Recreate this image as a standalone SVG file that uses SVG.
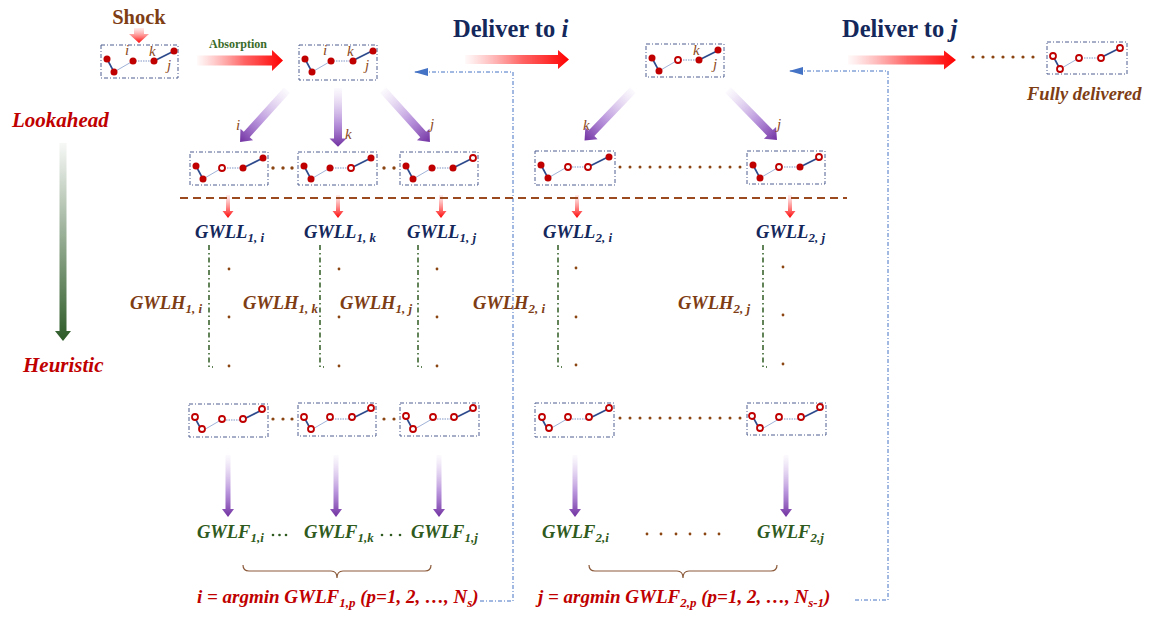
<svg xmlns="http://www.w3.org/2000/svg" width="1160" height="618" viewBox="0 0 1160 618">
<defs>
<style>
text{font-family:"Liberation Serif","Times New Roman",serif;font-weight:bold}
.it{font-style:italic}
.navy{fill:#14285c}
.brown{fill:#7e3d14}
.red{fill:#c00000}
.grn{fill:#2f5a20}
.box{fill:#fff;stroke:#4d5f8e;stroke-width:1;stroke-dasharray:4 2 1 2}
.sA{stroke:#2c4a8c;stroke-width:1.6;fill:none}
.sB{stroke:#9fb2d8;stroke-width:1;fill:none}
.sC{stroke:#7f95c4;stroke-width:1;stroke-dasharray:1.5 1;fill:none}
.nf{fill:#c00000}
.nh{fill:#fff;stroke:#c00000;stroke-width:1.8}
.lbl{font-size:15px;fill:#8b4a1c;font-style:italic;font-weight:normal}
.gw{font-size:18.5px;font-style:italic}
.sub{font-size:13px}
.brk{stroke:#2f5a20;stroke-width:1.5;fill:none;stroke-dasharray:5 3 1.5 3}
.dot{fill:#8b4513}
.gdot{fill:#2f5a20}
.conn{stroke:#4472c4;stroke-width:1;fill:none;stroke-dasharray:4 2 1 2}
.brace{stroke:#8b5a3a;stroke-width:1.2;fill:none}
.sep{stroke:#9a4a1e;stroke-width:2;stroke-dasharray:8 5;fill:none}
</style>
<linearGradient id="gRed" x1="0" y1="0" x2="1" y2="0">
<stop offset="0" stop-color="#ff6060" stop-opacity="0.03"/>
<stop offset="0.55" stop-color="#ff3030" stop-opacity="0.75"/>
<stop offset="1" stop-color="#ff0000"/>
</linearGradient>
<linearGradient id="gRedV" x1="0" y1="0" x2="0" y2="1">
<stop offset="0" stop-color="#ff8080" stop-opacity="0.15"/>
<stop offset="1" stop-color="#ff0000"/>
</linearGradient>
<linearGradient id="gPur" x1="0" y1="0" x2="0" y2="1">
<stop offset="0" stop-color="#c2a0e0" stop-opacity="0.05"/>
<stop offset="0.6" stop-color="#9a66cc" stop-opacity="0.7"/>
<stop offset="1" stop-color="#7030a0"/>
</linearGradient>
<linearGradient id="gGrn" x1="0" y1="0" x2="0" y2="1">
<stop offset="0" stop-color="#2d5a27" stop-opacity="0.04"/>
<stop offset="1" stop-color="#2d5a27"/>
</linearGradient>
<g id="ln">
<path class="sA" d="M6,14 L13,27"/>
<path class="sB" d="M13,27 L32,16"/>
<path class="sC" d="M32,16 L53,16"/>
<path class="sA" d="M53,16 L73,6"/>
</g>
<path id="pd" d="M-4,0 L4,0 L4,60 L8.5,60 L0,70 L-8.5,60 L-4,60 Z"/>
<path id="pv" d="M-2.5,0 L2.5,0 L2.5,54 L6,54 L0,62 L-6,54 L-2.5,54 Z"/>
<path id="rv" d="M-2,0 L2,0 L2,16 L5.5,16 L0,23 L-5.5,16 L-2,16 Z"/>
<marker id="ab" markerWidth="14" markerHeight="8" refX="13" refY="4" orient="auto" markerUnits="userSpaceOnUse">
<path d="M0,0 L14,4 L0,8 Z" fill="#4472c4"/>
</marker>
</defs>
<rect width="1160" height="618" fill="#fff"/>

<!-- connectors -->
<g id="connectors">
<path d="M134,28 L144,28 L144,34 L149,34 L139,43 L129,34 L134,34 Z" fill="url(#gRedV)"/>
<path d="M197,55.5 L272,55.5 L272,50 L283,60.5 L272,71 L272,65.5 L197,65.5 Z" fill="url(#gRed)"/>
<path d="M465,55 L558,55 L558,50 L569,59.5 L558,69 L558,64 L465,64 Z" fill="url(#gRed)"/>
<path d="M848,55.5 L944,55.5 L944,50.5 L956,60 L944,69.5 L944,64.5 L848,64.5 Z" fill="url(#gRed)"/>
<use href="#pd" fill="url(#gPur)" transform="translate(287,90) rotate(42.1)"/>
<use href="#pd" fill="url(#gPur)" transform="translate(338,88) scale(1,0.84)"/>
<use href="#pd" fill="url(#gPur)" transform="translate(383,90) rotate(-42.1)"/>
<use href="#pd" fill="url(#gPur)" transform="translate(633,90) rotate(43.8)"/>
<use href="#pd" fill="url(#gPur)" transform="translate(728,90) rotate(-44.4)"/>
<use href="#rv" fill="url(#gRedV)" x="228" y="195"/>
<use href="#rv" fill="url(#gRedV)" x="338" y="195"/>
<use href="#rv" fill="url(#gRedV)" x="441" y="195"/>
<use href="#rv" fill="url(#gRedV)" x="577" y="195"/>
<use href="#rv" fill="url(#gRedV)" x="790" y="195"/>
<use href="#pv" fill="url(#gPur)" x="228" y="455"/>
<use href="#pv" fill="url(#gPur)" x="336" y="455"/>
<use href="#pv" fill="url(#gPur)" x="439" y="455"/>
<use href="#pv" fill="url(#gPur)" x="575" y="455"/>
<use href="#pv" fill="url(#gPur)" x="786" y="455"/>
<path d="M59.5,143 L66.5,143 L66.5,331 L71,331 L63,341 L55,331 L59.5,331 Z" fill="url(#gGrn)"/>
<path class="conn" d="M480,601 L513,601 L513,72 L415,72" marker-end="url(#ab)"/>
<path class="conn" d="M855,600 L888,600 L888,71 L790,71" marker-end="url(#ab)"/>
<path class="sep" d="M180,198 L847,198"/>
<path class="brk" d="M209,245 L209,367 L213,367"/>
<path class="brk" d="M320,245 L320,367 L324,367"/>
<path class="brk" d="M418,245 L418,367 L422,367"/>
<path class="brk" d="M558,245 L558,367 L562,367"/>
<path class="brk" d="M763,245 L763,367 L767,367"/>
<path class="brace" d="M243,565 Q243,571 249,571 L331,571 Q337,571 337,578 Q337,571 343,571 L425,571 Q431,571 431,565"/>
<path class="brace" d="M589,565 Q589,571 595,571 L677,571 Q683,571 683,578 Q683,571 689,571 L771,571 Q777,571 777,565"/>
</g>

<!-- dots -->
<g id="ellipses">
<g class="dot">
<circle cx="973" cy="57" r="1.6"/><circle cx="983" cy="57" r="1.6"/><circle cx="993" cy="57" r="1.6"/><circle cx="1003" cy="57" r="1.6"/><circle cx="1013" cy="57" r="1.6"/><circle cx="1023" cy="57" r="1.6"/><circle cx="1033" cy="57" r="1.6"/>
<circle cx="273" cy="168" r="1.7"/><circle cx="283" cy="168" r="1.7"/><circle cx="292" cy="168" r="1.7"/>
<circle cx="384" cy="168" r="1.7"/><circle cx="394" cy="168" r="1.7"/>
<circle cx="620" cy="167" r="1.5"/><circle cx="630" cy="167" r="1.5"/><circle cx="640" cy="167" r="1.5"/><circle cx="650" cy="167" r="1.5"/><circle cx="660" cy="167" r="1.5"/><circle cx="670" cy="167" r="1.5"/><circle cx="680" cy="167" r="1.5"/><circle cx="690" cy="167" r="1.5"/><circle cx="700" cy="167" r="1.5"/><circle cx="710" cy="167" r="1.5"/><circle cx="720" cy="167" r="1.5"/><circle cx="730" cy="167" r="1.5"/><circle cx="740" cy="167" r="1.5"/>
<circle cx="273" cy="419" r="1.6"/><circle cx="283" cy="419" r="1.6"/><circle cx="292" cy="419" r="1.6"/>
<circle cx="384" cy="419" r="1.6"/><circle cx="394" cy="419" r="1.6"/>
<circle cx="620" cy="418" r="1.5"/><circle cx="630" cy="418" r="1.5"/><circle cx="640" cy="418" r="1.5"/><circle cx="650" cy="418" r="1.5"/><circle cx="660" cy="418" r="1.5"/><circle cx="670" cy="418" r="1.5"/><circle cx="680" cy="418" r="1.5"/><circle cx="690" cy="418" r="1.5"/><circle cx="700" cy="418" r="1.5"/><circle cx="710" cy="418" r="1.5"/><circle cx="720" cy="418" r="1.5"/><circle cx="730" cy="418" r="1.5"/><circle cx="740" cy="418" r="1.5"/>
<circle cx="229" cy="269" r="1.4"/><circle cx="229" cy="317" r="1.4"/><circle cx="229" cy="366" r="1.4"/>
<circle cx="339" cy="269" r="1.4"/><circle cx="339" cy="317" r="1.4"/><circle cx="339" cy="366" r="1.4"/>
<circle cx="437" cy="269" r="1.4"/><circle cx="437" cy="317" r="1.4"/><circle cx="437" cy="366" r="1.4"/>
<circle cx="576" cy="268" r="1.4"/><circle cx="576" cy="317" r="1.4"/><circle cx="576" cy="365" r="1.4"/>
<circle cx="783" cy="267" r="1.4"/><circle cx="783" cy="315" r="1.4"/><circle cx="783" cy="364" r="1.4"/>
<circle cx="647" cy="534" r="1.4"/><circle cx="661" cy="534" r="1.4"/><circle cx="676" cy="534" r="1.4"/><circle cx="690" cy="534" r="1.4"/><circle cx="705" cy="534" r="1.4"/><circle cx="719" cy="534" r="1.4"/>
</g>
<g class="gdot">
<circle cx="273" cy="535" r="1.3"/><circle cx="279.5" cy="535" r="1.3"/><circle cx="286" cy="535" r="1.3"/>
<circle cx="382" cy="535" r="1.3"/><circle cx="391" cy="535" r="1.3"/><circle cx="400" cy="535" r="1.3"/>
</g>
</g>

<!-- top row boxes -->
<g id="box-shock" transform="translate(101,45)">
<rect class="box" width="77" height="33"/><use href="#ln"/>
<circle class="nf" cx="6" cy="14" r="3.5"/><circle class="nf" cx="13" cy="27" r="3.5"/><circle class="nf" cx="32" cy="16" r="3.5"/><circle class="nf" cx="53" cy="16" r="3.5"/><circle class="nf" cx="73" cy="6" r="3.5"/>
<text class="lbl" x="24" y="10">i</text><text class="lbl" x="48" y="11">k</text><text class="lbl" x="66" y="25">j</text>
</g>
<g id="box-absorbed" transform="translate(299,45)">
<rect class="box" width="78" height="35"/><use href="#ln"/>
<circle class="nf" cx="6" cy="14" r="3.5"/><circle class="nf" cx="13" cy="27" r="3.5"/><circle class="nf" cx="32" cy="16" r="3.5"/><circle class="nf" cx="54" cy="16" r="3.5"/><circle class="nf" cx="74" cy="6" r="3.5"/>
<text class="lbl" x="24" y="10">i</text><text class="lbl" x="48" y="11">k</text><text class="lbl" x="66" y="25">j</text>
</g>
<g id="box-deliver-i" transform="translate(646,44)">
<rect class="box" width="78" height="33"/><use href="#ln"/>
<circle class="nf" cx="6" cy="14" r="3.5"/><circle class="nf" cx="13" cy="27" r="3.5"/><circle class="nh" cx="32" cy="16" r="3"/><circle class="nf" cx="53" cy="16" r="3.5"/><circle class="nf" cx="72" cy="6" r="3.5"/>
<text class="lbl" x="47" y="11">k</text><text class="lbl" x="67" y="25">j</text>
</g>
<g id="box-full" transform="translate(1047,42)">
<rect class="box" width="80" height="32"/><use href="#ln"/>
<circle class="nh" cx="6" cy="14" r="3"/><circle class="nh" cx="13" cy="27" r="3"/><circle class="nh" cx="32" cy="16" r="3"/><circle class="nh" cx="54" cy="16" r="3"/><circle class="nh" cx="73" cy="6" r="3"/>
</g>

<!-- row 2 boxes -->
<g id="box-l1-i" transform="translate(190,152)">
<rect class="box" width="78" height="33"/><use href="#ln"/>
<circle class="nf" cx="6" cy="14" r="3.5"/><circle class="nf" cx="13" cy="27" r="3.5"/><circle class="nh" cx="32" cy="16" r="3"/><circle class="nf" cx="53" cy="16" r="3.5"/><circle class="nf" cx="73" cy="6" r="3.5"/>
</g>
<g id="box-l1-k" transform="translate(298,152)">
<rect class="box" width="79" height="33"/><use href="#ln"/>
<circle class="nf" cx="6" cy="14" r="3.5"/><circle class="nf" cx="13" cy="27" r="3.5"/><circle class="nf" cx="32" cy="16" r="3.5"/><circle class="nh" cx="53" cy="16" r="3"/><circle class="nf" cx="73" cy="6" r="3.5"/>
</g>
<g id="box-l1-j" transform="translate(400,152)">
<rect class="box" width="78" height="33"/><use href="#ln"/>
<circle class="nf" cx="6" cy="14" r="3.5"/><circle class="nf" cx="13" cy="27" r="3.5"/><circle class="nf" cx="32" cy="16" r="3.5"/><circle class="nf" cx="53" cy="16" r="3.5"/><circle class="nh" cx="73" cy="6" r="3"/>
</g>
<g id="box-l2-i" transform="translate(535,151)">
<rect class="box" width="80" height="34"/><use href="#ln"/>
<circle class="nf" cx="6" cy="14" r="3.5"/><circle class="nf" cx="13" cy="27" r="3.5"/><circle class="nh" cx="33" cy="16" r="3"/><circle class="nh" cx="53" cy="16" r="3"/><circle class="nf" cx="74" cy="6" r="3.5"/>
</g>
<g id="box-l2-j" transform="translate(747,151)">
<rect class="box" width="78" height="33"/><use href="#ln"/>
<circle class="nf" cx="6" cy="14" r="3.5"/><circle class="nf" cx="13" cy="27" r="3.5"/><circle class="nh" cx="32" cy="16" r="3"/><circle class="nf" cx="53" cy="16" r="3.5"/><circle class="nh" cx="72" cy="6" r="3"/>
</g>

<!-- row 3 boxes -->
<g id="box-h1-i" transform="translate(189,404)">
<rect class="box" width="79" height="33"/><use href="#ln"/>
<circle class="nh" cx="6" cy="13" r="3"/><circle class="nh" cx="13" cy="25" r="3"/><circle class="nh" cx="33" cy="15" r="3"/><circle class="nh" cx="54" cy="15" r="3"/><circle class="nh" cx="73" cy="5" r="3"/>
</g>
<g id="box-h1-k" transform="translate(298,403)">
<rect class="box" width="78" height="33"/><use href="#ln"/>
<circle class="nh" cx="6" cy="14" r="3"/><circle class="nh" cx="13" cy="26" r="3"/><circle class="nh" cx="32" cy="14" r="3"/><circle class="nh" cx="54" cy="14" r="3"/><circle class="nh" cx="73" cy="5" r="3"/>
</g>
<g id="box-h1-j" transform="translate(400,403)">
<rect class="box" width="79" height="33"/><use href="#ln"/>
<circle class="nh" cx="6" cy="13" r="3"/><circle class="nh" cx="13" cy="26" r="3"/><circle class="nh" cx="33" cy="14" r="3"/><circle class="nh" cx="54" cy="14" r="3"/><circle class="nh" cx="73" cy="5" r="3"/>
</g>
<g id="box-h2-i" transform="translate(535,403)">
<rect class="box" width="79" height="34"/><use href="#ln"/>
<circle class="nh" cx="7" cy="14" r="3"/><circle class="nh" cx="14" cy="25" r="3"/><circle class="nh" cx="33" cy="14" r="3"/><circle class="nh" cx="54" cy="14" r="3"/><circle class="nh" cx="74" cy="5" r="3"/>
</g>
<g id="box-h2-j" transform="translate(747,403)">
<rect class="box" width="79" height="32"/><use href="#ln"/>
<circle class="nh" cx="5" cy="13" r="3"/><circle class="nh" cx="13" cy="25" r="3"/><circle class="nh" cx="32" cy="14" r="3"/><circle class="nh" cx="54" cy="14" r="3"/><circle class="nh" cx="73" cy="4" r="3"/>
</g>

<!-- labels -->
<g id="titles">
<text x="139" y="24" text-anchor="middle" font-size="20.5" class="brown">Shock</text>
<text x="209" y="48" font-size="12" fill="#3a6b2a">Absorption</text>
<text x="453" y="37" font-size="24.5" class="navy">Deliver to <tspan class="it">i</tspan></text>
<text x="842" y="37" font-size="24.5" class="navy">Deliver to <tspan class="it">j</tspan></text>
<text x="1027" y="100" font-size="18.5" class="it brown">Fully delivered</text>
<text x="12" y="127" font-size="21" class="it red">Lookahead</text>
<text x="23" y="372" font-size="21" class="it red">Heuristic</text>
</g>
<g id="branch-labels">
<text class="lbl" x="236" y="130" font-size="16">i</text>
<text class="lbl" x="345" y="139" font-size="16">k</text>
<text class="lbl" x="430" y="129" font-size="16">j</text>
<text class="lbl" x="583" y="130" font-size="16">k</text>
<text class="lbl" x="777" y="129" font-size="16">j</text>
</g>
<g id="gwll">
<text class="gw navy" x="195" y="238">GWLL<tspan class="sub" dy="4">1, i</tspan></text>
<text class="gw navy" x="304" y="238">GWLL<tspan class="sub" dy="4">1, k</tspan></text>
<text class="gw navy" x="407" y="238">GWLL<tspan class="sub" dy="4">1, j</tspan></text>
<text class="gw navy" x="543" y="238">GWLL<tspan class="sub" dy="4">2, i</tspan></text>
<text class="gw navy" x="756" y="238">GWLL<tspan class="sub" dy="4">2, j</tspan></text>
</g>
<g id="gwlh">
<text class="gw brown" x="130" y="309">GWLH<tspan class="sub" dy="4">1, i</tspan></text>
<text class="gw brown" x="243" y="309">GWLH<tspan class="sub" dy="4">1, k</tspan></text>
<text class="gw brown" x="340" y="309">GWLH<tspan class="sub" dy="4">1, j</tspan></text>
<text class="gw brown" x="473" y="309">GWLH<tspan class="sub" dy="4">2, i</tspan></text>
<text class="gw brown" x="678" y="309">GWLH<tspan class="sub" dy="4">2, j</tspan></text>
</g>
<g id="gwlf">
<text class="gw grn" x="197" y="538" font-size="20">GWLF<tspan class="sub" dy="4">1,i</tspan></text>
<text class="gw grn" x="304" y="538" font-size="20">GWLF<tspan class="sub" dy="4">1,k</tspan></text>
<text class="gw grn" x="411" y="538" font-size="20">GWLF<tspan class="sub" dy="4">1,j</tspan></text>
<text class="gw grn" x="542" y="538" font-size="20">GWLF<tspan class="sub" dy="4">2,i</tspan></text>
<text class="gw grn" x="757" y="538" font-size="20">GWLF<tspan class="sub" dy="4">2,j</tspan></text>
</g>
<g id="argmin">
<text class="it red" x="197" y="603" font-size="19">i = argmin GWLF<tspan class="sub" dy="4">1,p</tspan><tspan dy="-4"> (p=1, 2, …, N</tspan><tspan class="sub" dy="4">s</tspan><tspan dy="-4">)</tspan></text>
<text class="it red" x="538" y="603" font-size="19">j = argmin GWLF<tspan class="sub" dy="4">2,p</tspan><tspan dy="-4"> (p=1, 2, …, N</tspan><tspan class="sub" dy="4">s-1</tspan><tspan dy="-4">)</tspan></text>
</g>
</svg>
